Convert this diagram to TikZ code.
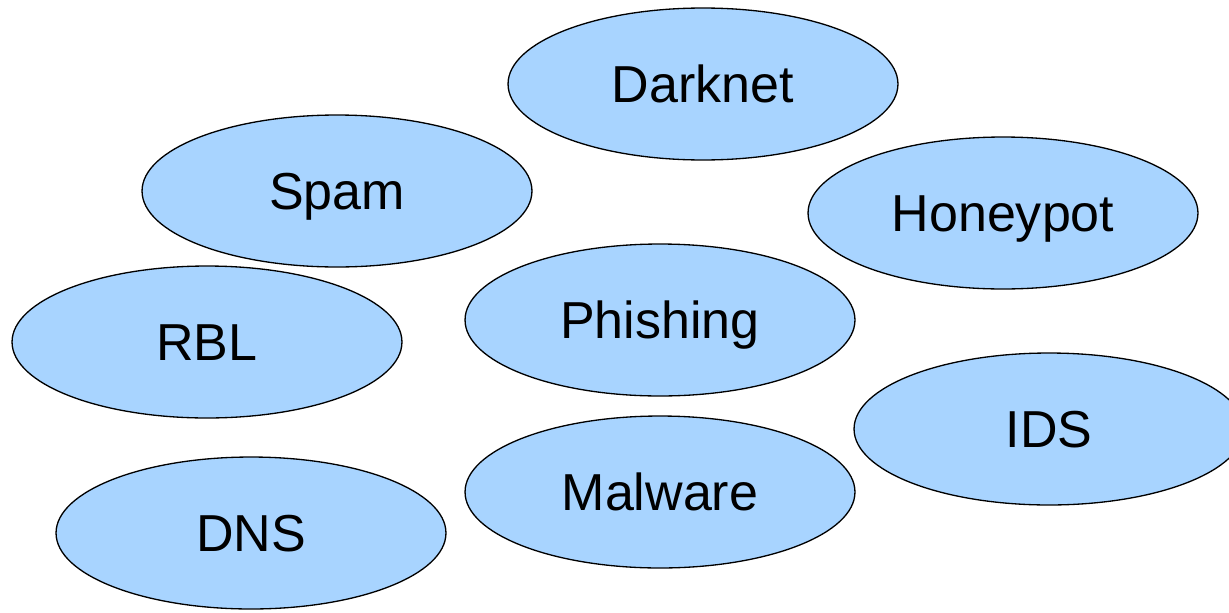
\documentclass[tikz,border=0pt]{standalone}
\usepackage{fontspec}
\setmainfont{Liberation Sans}
\usetikzlibrary{shapes.geometric}
\definecolor{bubblefill}{RGB}{168,212,255}
\tikzset{
  bubble/.style={ellipse, draw=black, line width=0.75pt, fill=bubblefill,
    minimum width=7.8cm, minimum height=3.04cm, inner sep=0pt,
    text height=21.2pt, text depth=0pt,
    font=\fontsize{29.6}{32}\selectfont}
}
\begin{document}
\begin{tikzpicture}[x=0.02cm,y=-0.02cm]
\useasboundingbox (0,0) rectangle (1229,612);
\clip (0,0) rectangle (1229,612);

\node[bubble] (darknet) at (703,84) {Darknet};
\node[bubble] (spam) at (337,191) {Spam};
\node[bubble] (honeypot) at (1003,213) {Honeypot};
\node[bubble] (rbl) at (207,342) {RBL};
\node[bubble] (phishing) at (660,320) {Phishing};
\node[bubble] (ids) at (1049,429) {IDS};
\node[bubble] (malware) at (660,492) {Malware};
\node[bubble] (dns) at (251,533) {DNS};
\end{tikzpicture}
\end{document}
